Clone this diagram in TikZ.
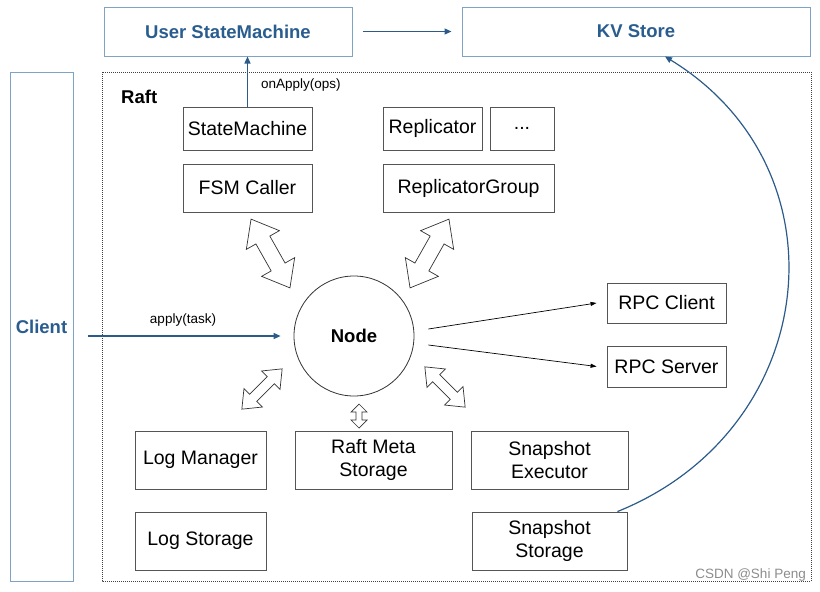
\documentclass[tikz,border=0pt]{standalone}
\usepackage{fontspec}
\setmainfont{Liberation Sans}
\usetikzlibrary{arrows.meta}
\definecolor{bluetext}{HTML}{2A5D8F}
\definecolor{blueborder}{HTML}{7FA3C4}
\definecolor{bluearrow}{HTML}{2B5B8A}
\definecolor{graybox}{HTML}{555555}
\tikzset{
  box/.style={draw=graybox, line width=0.9pt, inner sep=0pt, align=center,
    font=\fontsize{19.5}{23.5}\selectfont},
  bluebox/.style={draw=blueborder, line width=1pt, inner sep=0pt, align=center,
    text=bluetext, font=\fontsize{18.5}{22}\selectfont\bfseries},
  bluearr/.style={draw=bluearrow, line width=1.2pt, -{Triangle[length=7pt,width=6pt]}},
  thinarr/.style={draw=black, line width=0.7pt, -{Triangle[length=6pt,width=4pt]}},
  lbl/.style={font=\fontsize{13.5}{15}\selectfont, inner sep=0pt},
  pics/blockarr/.style n args={4}{code={
    \draw[draw=black!80, line width=0.7pt, fill=white, line join=miter]
      (-#1/2,0) -- (-#1/2+#4,#2) -- (-#1/2+#4,#3) -- (#1/2-#4,#3) -- (#1/2-#4,#2)
      -- (#1/2,0) -- (#1/2-#4,-#2) -- (#1/2-#4,-#3) -- (-#1/2+#4,-#3)
      -- (-#1/2+#4,-#2) -- cycle;
  }},
}
\begin{document}
\begin{tikzpicture}[x=1pt,y=-1pt]
\useasboundingbox (0,0) rectangle (820,592);
% outer boxes
\node[bluebox, minimum width=248pt, minimum height=49pt] (usm) at (228,31.5) {User StateMachine};
\node[bluebox, minimum width=348pt, minimum height=49pt] (kv) at (636,31.5) {KV Store};
\node[bluebox, minimum width=63pt, minimum height=509pt] (client) at (41.5,326.5) {Client};
\draw[draw=black!75, line width=1pt, densely dotted] (102,72) rectangle (811,581);
\node[font=\fontsize{18.5}{20}\selectfont\bfseries, anchor=west, inner sep=0pt] (raft) at (121,97) {Raft};
% inner boxes
\node[box, minimum width=129pt, minimum height=43pt] (sm) at (247.5,128.5) {StateMachine};
\node[box, minimum width=99pt, minimum height=43pt] (rep) at (432.5,128.5) {Replicator};
\node[box, minimum width=64pt, minimum height=43pt] (dots) at (522,128.5) {...};
\node[box, minimum width=129pt, minimum height=48pt] (fsm) at (247.5,188) {FSM Caller};
\node[box, minimum width=171pt, minimum height=48pt] (rg) at (468.5,188) {ReplicatorGroup};
\node[draw=black!80, line width=0.8pt, circle, minimum size=120pt, inner sep=0pt,
  font=\fontsize{18.5}{20}\selectfont\bfseries] (node) at (354,336) {Node};
\node[box, minimum width=119pt, minimum height=40pt] (rpcc) at (666.5,303) {RPC Client};
\node[box, minimum width=119pt, minimum height=41pt] (rpcs) at (666.5,366.5) {RPC Server};
\node[box, minimum width=131pt, minimum height=58pt] (lm) at (200.5,460) {Log Manager};
\node[box, minimum width=157pt, minimum height=58pt] (rms) at (373.5,460) {Raft Meta\\Storage};
\node[box, minimum width=157pt, minimum height=58pt] (se) at (549.5,460) {Snapshot\\Executor};
\node[box, minimum width=131pt, minimum height=58pt] (ls) at (200.5,541) {Log Storage};
\node[box, minimum width=155pt, minimum height=58pt] (ss) at (549.5,541) {Snapshot\\Storage};
% connectors
\draw[bluearr] ([xshift=10pt]usm.east) -- ([xshift=-10pt]kv.west);
\draw[bluearr] (sm.north) -- (sm.north |- usm.south);
\node[lbl, anchor=west] (onapply) at (261,85) {onApply(ops)};
\coordinate (cl) at (88,336);
\draw[bluearr] (cl) -- ([xshift=-13pt]node.west);
\node[lbl] (applyt) at (183,320) {apply(task)};
\draw[thinarr] ([shift={(14pt,7pt)}]node.east) -- ([xshift=-10pt]rpcc.west);
\draw[thinarr] ([shift={(14pt,-9pt)}]node.east) -- ([xshift=-10pt]rpcs.west);
\draw[draw=bluearrow, line width=1.2pt, -{Triangle[length=7pt,width=6pt]}]
  ([xshift=-10pt]ss.north east) .. controls (820,430) and (850,170) .. ([xshift=29pt]kv.south);
% block double arrows
\pic[rotate=-60.5] at (270.5,253.5) {blockarr={79}{19}{8}{24}};
\pic[rotate=-119.5] at (429.5,253.5) {blockarr={79}{19}{8}{24}};
\pic[rotate=-135] at (262,389) {blockarr={57}{13}{5}{16}};
\pic[rotate=-45] at (445,387) {blockarr={57}{13}{5}{16}};
\pic[rotate=90] at (359,416) {blockarr={24}{8}{3}{8}};
% watermark
\node[lbl, text=black!45, anchor=east] (wm) at (806,575) {CSDN @Shi Peng};
\end{tikzpicture}
\end{document}
